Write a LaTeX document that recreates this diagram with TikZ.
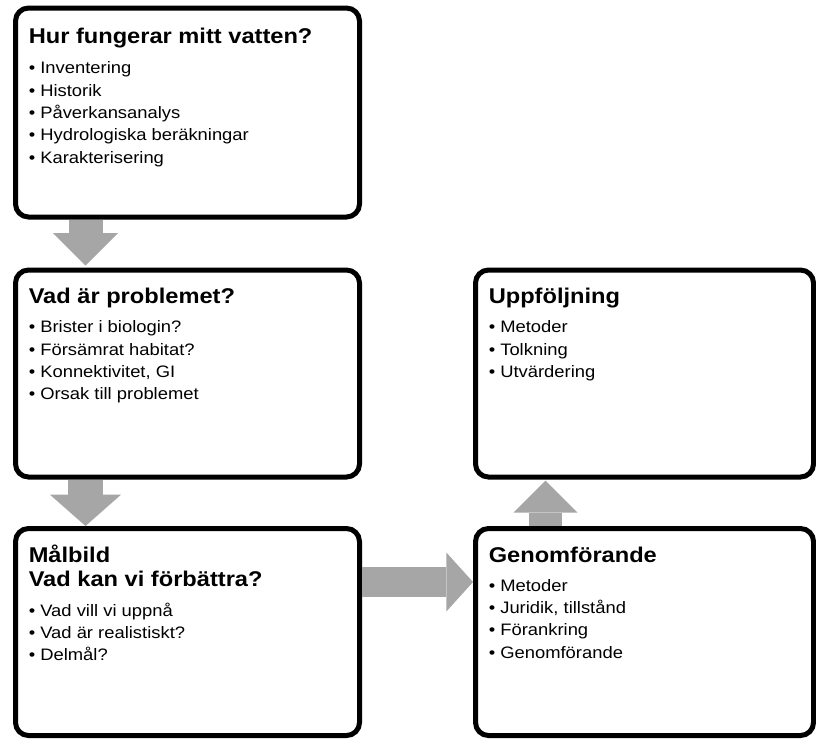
\documentclass[tikz,border=0pt]{standalone}
\usepackage{fontspec}
\setmainfont[FakeStretch=1.108]{Liberation Sans}
\usetikzlibrary{arrows.meta}
\definecolor{pilgrey}{RGB}{166,166,166}
\newcommand{\rubrik}[1]{{\bfseries\fontsize{16}{18}\selectfont #1}}
\newcommand{\punkter}[1]{\begin{tabular}[t]{@{}l@{}}#1\end{tabular}}

\begin{document}
\begin{tikzpicture}[
    x=0.75pt, y=-0.75pt,
    box/.style={rectangle, draw, line width=3.75pt, rounded corners=9.75pt, fill=white, minimum width=258pt, minimum height=155.25pt},
    rbox/.style={box, minimum width=253.5pt},
    txt/.style={anchor=base west, inner sep=0pt, font=\fontsize{12.45}{16.7}\selectfont},
    flow/.style n args={3}{draw=pilgrey, line width=#1, -{Triangle[width=#2, length=#3, line width=0pt]}}
]
\useasboundingbox (0,0) rectangle (816,739);

\node[box, minimum height=156.75pt] (B-1) at (187.5, 112.5) {};
\node[box] (B-2) at (187.5, 373.5) {};
\node[box] (B-3) at (187.5, 632) {};
\node[rbox] (B-4) at (644.5, 632) {};
\node[rbox] (B-5) at (644.5, 373.5) {};

\node[txt] (T-1) at ([shift={(15.5,37.5)}]B-1.north west) {\punkter{\rubrik{Hur fungerar mitt vatten?}\\[6.5pt]
    • Inventering\\ • Historik\\ • Påverkansanalys\\ • Hydrologiska beräkningar\\ • Karakterisering}};
\node[txt] (T-2) at ([shift={(15.5,36)}]B-2.north west) {\punkter{\rubrik{Vad är problemet?}\\[5.3pt]
    • Brister i biologin?\\ • Försämrat habitat?\\ • Konnektivitet, GI\\ • Orsak till problemet}};
\node[txt] (T-3) at ([shift={(15.5,36)}]B-3.north west) {\punkter{\rubrik{Målbild}\\[2pt] \rubrik{Vad kan vi förbättra?}\\[5.3pt]
    • Vad vill vi uppnå\\ • Vad är realistiskt?\\ • Delmål?}};
\node[txt] (T-4) at ([shift={(15.5,36)}]B-4.north west) {\punkter{\rubrik{Genomförande}\\[5.3pt]
    • Metoder\\ • Juridik, tillstånd\\ • Förankring\\ • Genomförande}};
\node[txt] (T-5) at ([shift={(15.5,36)}]B-5.north west) {\punkter{\rubrik{Uppföljning}\\[5.3pt]
    • Metoder\\ • Tolkning\\ • Utvärdering}};

% Pilar
\draw[flow={25.5pt}{48.75pt}{24.2pt}] ([shift={(-102,0)}]B-1.south) -- ([shift={(-102,-2)}]B-2.north);
\draw[flow={26.7pt}{53.25pt}{23.5pt}] ([shift={(-102,0)}]B-2.south) -- ([shift={(-102,0)}]B-3.north);
\draw[flow={23pt}{44.25pt}{20pt}] ([shift={(0,-50)}]B-3.east) -- ([shift={(0,-50)}]B-4.west);
\draw[flow={24.3pt}{48pt}{24pt}] ([shift={(-99,0)}]B-4.north) -- ([shift={(-99,1)}]B-5.south);

\end{tikzpicture}
\end{document}
